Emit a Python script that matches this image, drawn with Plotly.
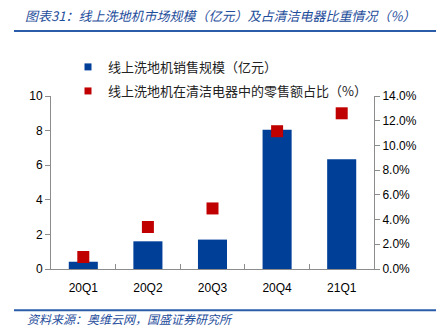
import plotly.graph_objects as go

categories = ["20Q1", "20Q2", "20Q3", "20Q4", "21Q1"]
sales = [0.42, 1.6, 1.7, 8.05, 6.35]          # 亿元
share = [0.97, 3.4, 4.9, 11.15, 12.6]         # %
left_ticks = [0, 2, 4, 6, 8, 10]
right_ticks = [0, 2, 4, 6, 8, 10, 12, 14]
right_tick_labels = ["0.0%", "2.0%", "4.0%", "6.0%", "8.0%", "10.0%", "12.0%", "14.0%"]

name_bar = "线上洗地机销售规模（亿元）"
name_pt = "线上洗地机在清洁电器中的零售额占比（%）"
title_text = "图表31：线上洗地机市场规模（亿元）及占清洁电器比重情况（%）"
source_text = "资料来源：奥维云网，国盛证券研究所"

BLUE = "#003F98"
RED = "#C00000"
TITLE_BLUE = "#1F4E9C"
NUM_FONT = "Liberation Sans, Arial, sans-serif"
CJK_FONT = "Noto Sans CJK SC, sans-serif"

# plot-area geometry (pixels) used to place decorations
W, H = 445, 336
L, R, T, B = 51, 374, 96, 268.7
def px(x): return (x - L) / (R - L)
def py(y): return (B - y) / (B - T)

fig = go.Figure()
fig.add_trace(go.Bar(
    x=categories, y=sales, name=name_bar, marker=dict(color=BLUE, line=dict(width=0)),
    yaxis="y", showlegend=False))
fig.add_trace(go.Scatter(
    x=categories, y=share, name=name_pt, mode="markers",
    marker=dict(symbol="square", size=12, color=RED, line=dict(width=0)),
    yaxis="y2", showlegend=False))
# legend entries
fig.add_trace(go.Scatter(x=[None], y=[None], mode="markers", name=name_bar,
                         marker=dict(symbol="square", size=7, color=BLUE), legend="legend"))
fig.add_trace(go.Scatter(x=[None], y=[None], mode="markers", name=name_pt,
                         marker=dict(symbol="square", size=7, color=RED), legend="legend2"))

axis_common = dict(showline=True, linecolor="#8c8c8c", linewidth=1, showgrid=False,
                   zeroline=False, tickcolor="#8c8c8c", ticklen=5,
                   tickfont=dict(family=NUM_FONT, size=12, color="#000"))

fig.update_layout(
    width=W, height=H,
    margin=dict(l=L, r=W - R, t=T, b=H - B),
    paper_bgcolor="white", plot_bgcolor="white",
    bargap=0.55,
    xaxis=dict(type="category", ticks="inside", tickson="boundaries",
               ticklabelstandoff=8, **axis_common),
    yaxis=dict(range=[0, 10], tickvals=left_ticks, ticks="outside", **axis_common),
    yaxis2=dict(range=[0, 14], tickvals=right_ticks, ticktext=right_tick_labels,
                overlaying="y", side="right", ticks="outside", **axis_common),
    legend=dict(x=px(68), y=py(67), xanchor="left", yanchor="middle",
                font=dict(family=CJK_FONT, size=13, color="#222"), bgcolor="rgba(0,0,0,0)"),
    legend2=dict(x=px(68), y=py(91), xanchor="left", yanchor="middle",
                 font=dict(family=CJK_FONT, size=13, color="#222"), bgcolor="rgba(0,0,0,0)"),
    title=dict(text=title_text, xref="container", yref="container", x=25 / W, y=1 - 16 / H,
               xanchor="left", yanchor="middle",
               font=dict(family=CJK_FONT, size=13, color=TITLE_BLUE, style="italic")),
    showlegend=True,
)

fig.add_annotation(text=source_text, xref="paper", yref="paper", x=px(25), y=py(318),
                   xanchor="left", yanchor="middle", showarrow=False,
                   font=dict(family=CJK_FONT, size=12, color=TITLE_BLUE, style="italic"))

for yy in (31, 310):
    fig.add_shape(type="line", xref="paper", yref="paper", x0=px(14), x1=px(436),
                  y0=py(yy), y1=py(yy), line=dict(color="#2A5CAA", width=2))

fig.write_html("out.html")
